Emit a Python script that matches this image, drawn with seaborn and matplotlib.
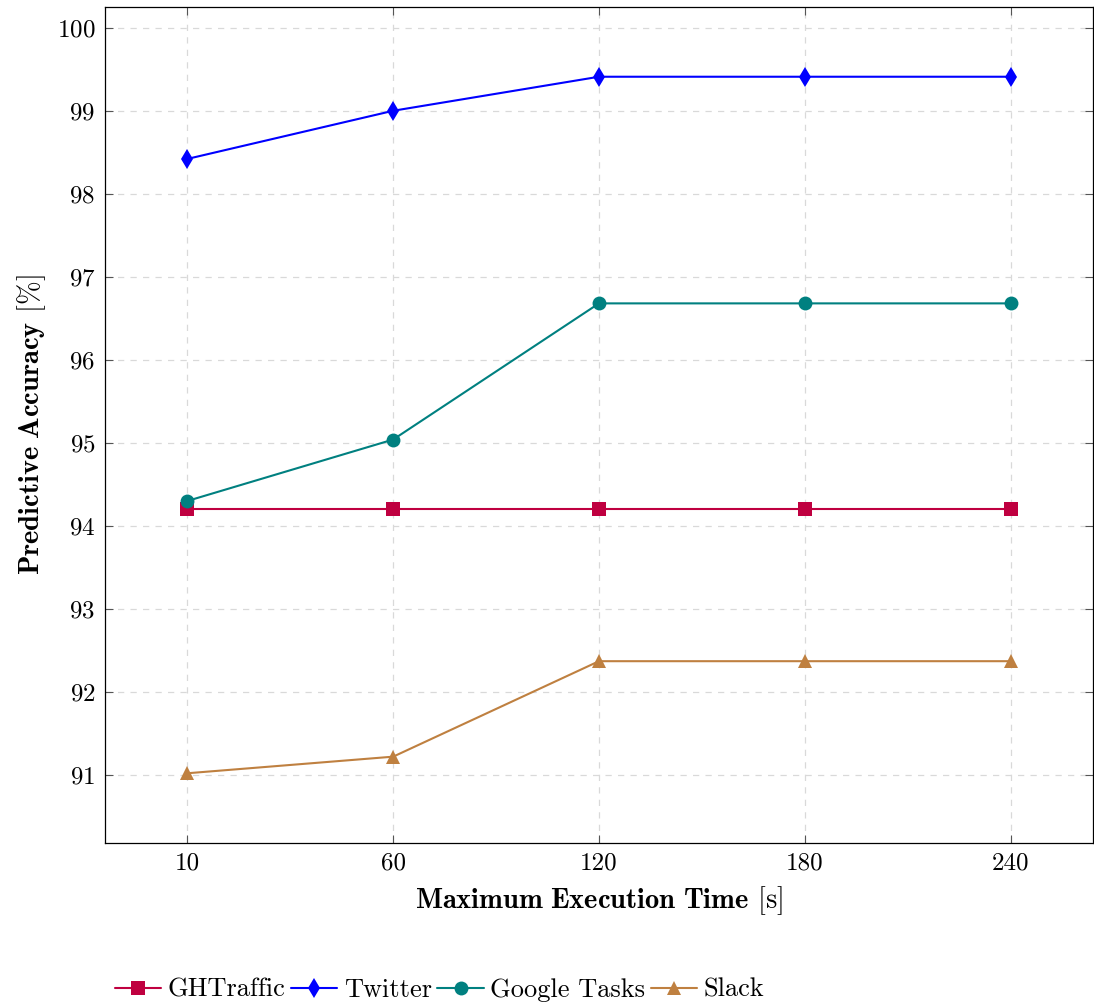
import numpy as np
import pandas as pd
import seaborn as sns
import matplotlib
matplotlib.use("Agg")
import matplotlib.pyplot as plt

# data
times = ["10", "60", "120", "180", "240"]
ghtraffic = [94.20, 94.20, 94.20, 94.20, 94.20]
twitter = [98.42, 99.00, 99.41, 99.41, 99.41]
google_tasks = [94.30, 95.04, 96.68, 96.68, 96.68]
slack = [91.02, 91.22, 92.37, 92.37, 92.37]

series = {"GHTraffic": ghtraffic, "Twitter": twitter,
          "Google Tasks": google_tasks, "Slack": slack}
rows = []
for name, vals in series.items():
    for i, v in enumerate(vals):
        rows.append({"idx": i, "acc": v, "set": name})
df = pd.DataFrame(rows)

sns.set_style("ticks")
plt.rcParams["font.family"] = "serif"
plt.rcParams["font.serif"] = ["cmr10", "DejaVu Serif"]
plt.rcParams["mathtext.fontset"] = "cm"
plt.rcParams["axes.formatter.use_mathtext"] = True
plt.rcParams["text.color"] = "black"
plt.rcParams["axes.labelcolor"] = "black"
plt.rcParams["xtick.color"] = "black"
plt.rcParams["ytick.color"] = "black"

palette = {"GHTraffic": "#BF0040", "Twitter": "#0000FF",
           "Google Tasks": "#008080", "Slack": "#BF8040"}
markers = {"GHTraffic": "s", "Twitter": "d", "Google Tasks": "o", "Slack": "^"}

fig = plt.figure(figsize=(10.94, 10.06), dpi=100)
ax = fig.add_axes([105 / 1094, 1 - 843 / 1006, 988 / 1094, 836 / 1006])

sns.lineplot(data=df, x="idx", y="acc", hue="set", style="set",
             palette=palette, markers=markers, dashes=False,
             markersize=10, linewidth=1.5, markeredgewidth=0, ax=ax)

ax.set_xlim(-0.4, 4.4)
ax.set_ylim(90.18, 100.25)
ax.set_xticks(range(len(times)))
ax.set_xticklabels(times)
ax.set_yticks(range(91, 101))
ax.grid(True, linestyle=(0, (5, 5)), color="#d9d9d9", linewidth=0.9)
ax.set_axisbelow(True)
ax.tick_params(direction="in", length=6, color="#555555", labelsize=18,
               labelcolor="black", top=True, right=True, pad=7)
for s in ax.spines.values():
    s.set_color("black")
    s.set_linewidth(0.9)

ax.set_xlabel(r"$\mathbf{Maximum\ Execution\ Time}$ [s]", fontsize=20.5, labelpad=7)
ax.set_ylabel(r"$\mathbf{Predictive\ Accuracy}$ [%]", fontsize=20.5, labelpad=6)

ax.legend_.remove()
h, l = ax.get_legend_handles_labels()
fig.legend(h, l, loc="center left", bbox_to_anchor=(104 / 1094, 1 - 990 / 1006),
           ncol=4, frameon=False, fontsize=19, handlelength=1.75,
           handletextpad=0.25, columnspacing=0.22, borderaxespad=0)

fig.savefig("out.png", dpi=100)
